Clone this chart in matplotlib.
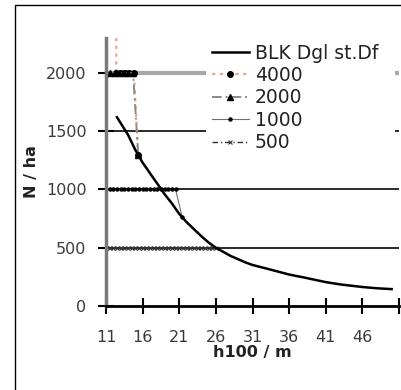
import matplotlib
matplotlib.use("Agg")
import matplotlib.pyplot as plt
from matplotlib.patches import Rectangle

plt.rcParams['font.family'] = ['DejaVu Sans']

# Data
curve_h = [12.5, 13, 14, 15, 16, 17, 18, 19, 20, 21, 22, 23, 24, 25, 26, 28, 30, 31,
           33, 36, 38, 41, 43, 46, 48, 50]
curve_n = [1620, 1570, 1470, 1340, 1230, 1140, 1050, 960, 880, 790, 720, 660, 600,
           545, 500, 430, 375, 352, 320, 270, 245, 205, 185, 163, 152, 145]

s4000_h = [12.4, 12.4, 13.0, 13.6, 14.2, 14.8, 15.4]
s4000_n = [4000, 2000, 2000, 2000, 2000, 2000, 1296]

s2000_h = [11.0, 11.6, 12.2, 12.8, 13.4, 14.0, 14.7, 15.4]
s2000_n = [2000, 2000, 2000, 2000, 2000, 2000, 2000, 1296]

s1000_h = [11.0, 11.5, 12.0, 12.5, 13.0, 13.5, 14.0, 14.5, 15.0, 15.5, 16.0, 16.5,
           17.0, 17.5, 18.0, 18.5, 19.0, 19.5, 20.0, 20.5, 21.4]
s1000_n = [1000, 1000, 1000, 1000, 1000, 1000, 1000, 1000, 1000, 1000, 1000, 1000,
           1000, 1000, 1000, 1000, 1000, 1000, 1000, 1000, 762]

s500_h = [11.0, 11.5, 12.0, 12.5, 13.0, 13.5, 14.0, 14.5, 15.0, 15.5, 16.0, 16.5,
          17.0, 17.5, 18.0, 18.5, 19.0, 19.5, 20.0, 20.5, 21.0, 21.5, 22.0, 22.5,
          23.0, 23.5, 24.0, 24.5, 25.0, 25.5, 26.0]
s500_n = [500] * 31

x_ticks = [11, 16, 21, 26, 31, 36, 41, 46, 51]
x_tick_labels = ['11', '16', '21', '26', '31', '36', '41', '46', '']
y_ticks = [0, 500, 1000, 1500, 2000]
y_tick_labels = ['0', '500', '1000', '1500', '2000']

W, H = 401, 390
fig = plt.figure(figsize=(W / 100, H / 100), dpi=100)

# outer frame
fig.patches.append(Rectangle((15 / W, -0.1), 1.2, 1 - 5 / H + 0.1, transform=fig.transFigure,
                             fill=False, edgecolor='black', linewidth=1.0))

ax = fig.add_axes([106 / W, 1 - 306 / H, (399 - 106) / W, (306 - 38) / H])
ax.set_xlim(11, 51)
ax.set_ylim(0, 2300)

# gridlines
for v in [500, 1000, 1500]:
    ax.axhline(v, color='#2a2a2a', lw=1.4, zorder=1)
ax.axhline(2000, color='#a8a8a8', lw=3.0, zorder=1)

l_curve, = ax.plot(curve_h, curve_n, color='black', lw=1.8, zorder=5,
                   label='BLK Dgl st.Df')
l4000, = ax.plot(s4000_h, s4000_n, color='#e8a888', lw=1.6, ls=(0, (1.5, 2.0)),
                 marker='o', ms=4.0, mfc='black', mec='black', zorder=4, label='4000')
l2000, = ax.plot(s2000_h, s2000_n, color='#8a8a8a', lw=1.4, ls=(0, (5, 2, 1, 2)),
                 marker='^', ms=5, mfc='black', mec='black', zorder=4, label='2000')
l1000, = ax.plot(s1000_h, s1000_n, color='#707070', lw=0.8, ls='-',
                 marker='o', ms=2.2, mfc='black', mec='black', zorder=3, label='1000')
l500, = ax.plot(s500_h, s500_n, color='#333333', lw=1.0, ls=(0, (4, 2, 1, 2)),
                marker='x', ms=2.5, mew=0.8, mfc='black', mec='#333333', zorder=3, label='500')

leg = ax.legend(handles=[l_curve, l4000, l2000, l1000, l500], loc='upper left',
                bbox_to_anchor=(0.341, 0.0, 0.645, 1.0), mode='expand',
                frameon=True, fancybox=False,
                edgecolor='none', facecolor='white', framealpha=1.0,
                fontsize=13.5, handlelength=2.0, handletextpad=0.3,
                labelspacing=0.18, borderpad=0.3, borderaxespad=0.0)
leg.set_zorder(10)
for t in leg.get_texts():
    t.set_color('#222222')

for s in ['top', 'right']:
    ax.spines[s].set_visible(False)
ax.spines['left'].set_color('#7a7a7a')
ax.spines['left'].set_linewidth(2.5)
ax.spines['bottom'].set_color('black')
ax.spines['bottom'].set_linewidth(2.0)
ax.spines['left'].set_zorder(6)
ax.spines['bottom'].set_zorder(6)

ax.set_xticks(x_ticks)
ax.set_xticklabels(x_tick_labels)
ax.set_yticks(y_ticks)
ax.set_yticklabels(y_tick_labels)
ax.tick_params(axis='x', direction='inout', length=12, width=1.5, color='black',
               labelsize=11.5, labelcolor='#3a3a3a', pad=11)
ax.tick_params(axis='y', direction='inout', length=12, width=1.5, color='black',
               labelsize=11.5, labelcolor='#3a3a3a', pad=8)

ax.set_xlabel('h100 / m', fontsize=11.5, fontweight='bold', color='#222222', labelpad=0)
ax.set_ylabel('N / ha', fontsize=11.5, fontweight='bold', color='#222222', labelpad=5)

fig.savefig('out.png', dpi=100)
